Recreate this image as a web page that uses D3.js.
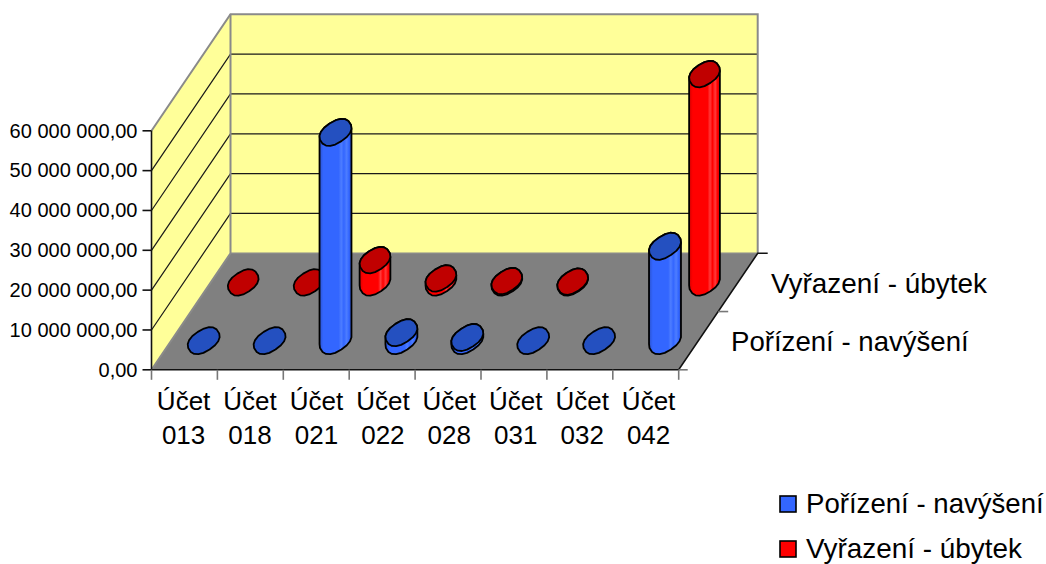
<!DOCTYPE html>
<html><head><meta charset="utf-8">
<script src="https://cdn.jsdelivr.net/npm/d3@7"></script>
<style>html,body{margin:0;padding:0;background:#fff}svg{display:block}text{font-family:"Liberation Sans",Arial,sans-serif;fill:#000}</style>
</head><body><svg id="c" width="1046" height="564"></svg>
<script>
const categories = ["013","018","021","022","028","031","032","042"];
const seriesNames = ["Pořízení - navýšení","Vyřazení - úbytek"];
const porizeni = [0,0,52300000,2000000,800000,0,0,23700000];
const vyrazeni = [0,0,5600000,1000000,350000,200000,null,52300000];
const yTicks = [0,10000000,20000000,30000000,40000000,50000000,60000000];
const yTickLabels = ["0,00","10 000 000,00","20 000 000,00","30 000 000,00","40 000 000,00","50 000 000,00","60 000 000,00"];
const fills = [{side:"#3366ff",edge:"#2a52cf",hi:"#4d7dff",top:"#2450c0"},{side:"#ff0000",edge:"#d80000",hi:"#ff3a3a",top:"#c00000"}];

const svg = d3.select("#c");
const xS = d3.scaleLinear().domain([0,8]).range([151.5,678.7]);
const labelX = d3.scaleLinear().domain([0,7]).range([183.6,648.6]);
const dX = d3.scaleLinear().domain([0,2]).range([0,79]);
const dY = d3.scaleLinear().domain([0,2]).range([369.8,253.3]);
const vS = d3.scaleLinear().domain([0,60000000]).range([0,239]);
const P = (c,d,v=0)=>[xS(c)+dX(d), dY(d)-vS(v)];
const poly = pts=>"M"+pts.map(p=>p.map(n=>+n.toFixed(2)).join(",")).join("L")+"Z";

const yMax = 60000000;
svg.append("path").attr("d",poly([P(0,2),P(8,2),P(8,2,yMax),P(0,2,yMax)])).attr("fill","#ffff99");
svg.append("path").attr("d",poly([P(0,0),P(0,2),P(0,2,yMax),P(0,0,yMax)])).attr("fill","#ffff99");
svg.append("path").attr("d",poly([P(0,0),P(8,0),P(8,2),P(0,2)])).attr("fill","#808080");

yTicks.slice(1,-1).forEach(t=>{
  svg.append("path").attr("d","M"+P(0,0,t)+"L"+P(0,2,t)+"L"+P(8,2,t)).attr("fill","none").attr("stroke","#1a1a1a").attr("stroke-width",1.2);
});
svg.append("path").attr("d","M"+P(0,0,yMax)+"L"+P(0,2,yMax)+"L"+P(8,2,yMax)+"L"+P(8,2)).attr("fill","none").attr("stroke","#8a8a8a").attr("stroke-width",2);
svg.append("path").attr("d","M"+P(0,0)+"L"+P(0,2)+"L"+P(0,2,yMax)).attr("fill","none").attr("stroke","#8a8a8a").attr("stroke-width",2);
svg.append("path").attr("d","M"+P(0,2)+"L"+P(8,2)).attr("fill","none").attr("stroke","#8a8a8a").attr("stroke-width",1.5);

const ax = svg.append("g").attr("fill","none").attr("stroke","#111").attr("stroke-width",1.6);
ax.append("path").attr("d","M"+P(0,0)+"L"+P(0,0,yMax));
ax.append("path").attr("d","M"+P(0,0)+"L"+P(8,0)+"L"+P(8,2)+"L"+[P(8,2)[0]+10,P(8,2)[1]]);
ax.append("path").attr("d","M"+P(8,0)+"L"+[P(8,0)[0]+9,P(8,0)[1]]).attr("stroke","#777");
ax.append("path").attr("d","M"+P(8,1)+"L"+[P(8,1)[0]+10,P(8,1)[1]]).attr("stroke","#777");
yTicks.forEach((t,i)=>{
  const [x,y]=P(0,0,t);
  ax.append("path").attr("d",`M${x-9},${y}H${x}`);
  svg.append("text").attr("x",x-14).attr("y",y+6.8).attr("text-anchor","end").attr("font-size",20).text(yTickLabels[i]);
});
d3.range(0,9).forEach(i=>{
  const [x,y]=P(i,0);
  ax.append("path").attr("d",`M${x},${y}V${y+10}`).attr("stroke","#777");
});
categories.forEach((c,i)=>{
  const y=P(0,0)[1];
  svg.append("text").attr("x",labelX(i)).attr("y",y+40.5).attr("text-anchor","middle").attr("font-size",26).text("Účet");
  svg.append("text").attr("x",labelX(i)).attr("y",y+74).attr("text-anchor","middle").attr("font-size",26).text(c);
});
svg.append("text").attr("x",731).attr("y",351).attr("font-size",27.6).text(seriesNames[0]);
svg.append("text").attr("x",771).attr("y",293).attr("font-size",27.9).text(seriesNames[1]);

const defs = svg.append("defs");
fills.forEach((f,i)=>{
  const g = defs.append("linearGradient").attr("id","g"+i);
  [[0,f.edge],[.12,f.side],[.6,f.side],[.68,f.hi],[.76,f.side],[.85,f.hi],[.92,f.side],[1,f.edge]].forEach(s=>g.append("stop").attr("offset",s[0]).attr("stop-color",s[1]));
});

// rounded, slightly faceted disc along its tilted principal axes
const majors = [17.2,16.4], minor = 10.6, TILT = -33*Math.PI/180, EXP = 0.85, N = 18, NUDGE = -0.5;
const spow = u=>Math.sign(u)*Math.pow(Math.abs(u),EXP);
const ring = (cx,cy,sa)=>d3.range(N).map(k=>{
  const t = 2*Math.PI*k/N + 0.17;
  const u = sa*spow(Math.cos(t)), w = minor*spow(Math.sin(t));
  return [cx + NUDGE + u*Math.cos(TILT) - w*Math.sin(TILT), cy + u*Math.sin(TILT) + w*Math.cos(TILT)];
});
function cyl(c,d,v,si){
  const [bxc,byc]=P(c+.5,d,0), [txc,tyc]=P(c+.5,d,v);
  const sa = majors[si];
  const top = ring(txc,tyc,sa), base = ring(bxc,byc,sa);
  if(v>0){
    const iR = d3.maxIndex(base,p=>p[0]), iL = d3.minIndex(base,p=>p[0]);
    const walk=(pts,a,b)=>{const o=[];let i=a;for(;;){o.push(pts[i]);if(i===b)break;i=(i+1)%N;}return o;};
    const outline = walk(base,iR,iL).concat(walk(top,iL,iR));
    svg.append("path").attr("d",poly(outline)).attr("fill",`url(#g${si})`).attr("stroke","#000").attr("stroke-width",1.8).attr("stroke-linejoin","round");
  }
  svg.append("path").attr("d",poly(top)).attr("fill",fills[si].top).attr("stroke","#000").attr("stroke-width",1.8).attr("stroke-linejoin","round");
}
[[vyrazeni,1.5,1],[porizeni,.5,0]].forEach(([vals,d,si])=>{
  vals.forEach((v,i)=>{ if(v!==null) cyl(i,d,v,si); });
});

const lg = [[0,504],[1,549]];
lg.forEach(([i,y])=>{
  svg.append("rect").attr("x",780).attr("y",y-8).attr("width",16).attr("height",16).attr("fill",fills[i].side).attr("stroke","#000").attr("stroke-width",1.6);
  svg.append("text").attr("x",806).attr("y",y+8.7).attr("font-size",i?27.9:27.6).text(seriesNames[i]);
});
</script></body></html>
